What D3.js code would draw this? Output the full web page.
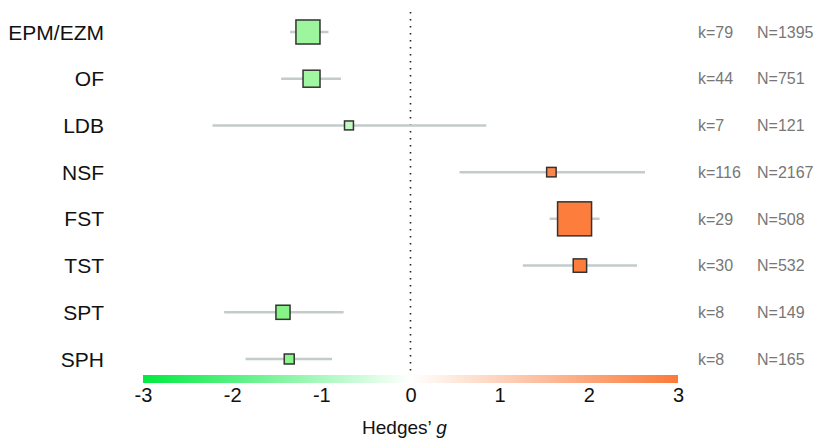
<!DOCTYPE html>
<html>
<head>
<meta charset="utf-8">
<script src="https://cdn.jsdelivr.net/npm/d3@7"></script>
<style>
  body { margin: 0; background: #fff; }
  svg { display: block; font-family: "Liberation Sans", Arial, sans-serif; }
</style>
</head>
<body>
<svg id="chart" width="819" height="440"></svg>
<script>
const categories = ["EPM/EZM", "OF", "LDB", "NSF", "FST", "TST", "SPT", "SPH"];
const effects    = [-1.15, -1.11, -0.69, 1.58, 1.84, 1.90, -1.43, -1.36];
const ciLow      = [-1.35, -1.45, -2.22, 0.55, 1.56, 1.26, -2.09, -1.85];
const ciHigh     = [-0.92, -0.78, 0.85, 2.63, 2.12, 2.54, -0.75, -0.88];
const weights    = [5.8, 2.9, 0.8, 0.9, 11.6, 1.8, 2.0, 1.0];
const kValues    = [79, 44, 7, 116, 29, 30, 8, 8];
const nValues    = [1395, 751, 121, 2167, 508, 532, 149, 165];
const xTicks     = [-3, -2, -1, 0, 1, 2, 3];

const svg = d3.select("#chart");
const x = d3.scaleLinear().domain([-3, 3]).range([143, 678]);
const y = d3.scalePoint().domain(categories).range([32, 359]);
const size = d3.scaleSqrt().domain([0, 11.6]).range([0, 34]);
const fill = d3.scaleLinear().domain([-3, 0, 1.7]).range(["#00e600", "#ffffff", "#fc7d3c"]).clamp(true);

const data = categories.map((c, i) => ({
  cat: c, g: effects[i], lo: ciLow[i], hi: ciHigh[i], w: weights[i], k: kValues[i], n: nValues[i]
}));

// gradient bar
const defs = svg.append("defs");
const grad = defs.append("linearGradient").attr("id", "gbar").attr("x1", "0%").attr("x2", "100%");
grad.append("stop").attr("offset", "0%").attr("stop-color", "#00ea40");
grad.append("stop").attr("offset", "50%").attr("stop-color", "#ffffff");
grad.append("stop").attr("offset", "100%").attr("stop-color", "#fa7a38");
svg.append("rect")
  .attr("x", x(-3)).attr("y", 375)
  .attr("width", x(3) - x(-3)).attr("height", 8)
  .attr("fill", "url(#gbar)");

// zero line
svg.append("line")
  .attr("x1", x(0)).attr("x2", x(0))
  .attr("y1", 12).attr("y2", 372)
  .attr("stroke", "#222").attr("stroke-width", 1.6)
  .attr("stroke-dasharray", "1.6,5.4");

// CI lines
svg.selectAll(".ci").data(data).join("line")
  .attr("class", "ci")
  .attr("x1", d => x(d.lo)).attr("x2", d => x(d.hi))
  .attr("y1", d => y(d.cat)).attr("y2", d => y(d.cat))
  .attr("stroke", "#c3cbcb").attr("stroke-width", 2.5);

// squares
svg.selectAll(".sq").data(data).join("rect")
  .attr("class", "sq")
  .attr("x", d => x(d.g) - size(d.w) / 2)
  .attr("y", d => y(d.cat) - size(d.w) / 2)
  .attr("width", d => size(d.w)).attr("height", d => size(d.w))
  .attr("fill", d => fill(d.g))
  .attr("stroke", "#333").attr("stroke-width", 1.5);

// row labels
svg.selectAll(".lab").data(data).join("text")
  .attr("class", "lab")
  .attr("x", 104).attr("y", d => y(d.cat))
  .attr("dy", "0.36em").attr("text-anchor", "end")
  .attr("font-size", 21).attr("fill", "#111")
  .text(d => d.cat);

// k and N labels
svg.selectAll(".klab").data(data).join("text")
  .attr("class", "klab")
  .attr("x", 698).attr("y", d => y(d.cat))
  .attr("dy", "0.36em").attr("font-size", 16).attr("fill", "#777")
  .text(d => "k=" + d.k);
svg.selectAll(".nlab").data(data).join("text")
  .attr("class", "nlab")
  .attr("x", 757).attr("y", d => y(d.cat))
  .attr("dy", "0.36em").attr("font-size", 16).attr("fill", "#777")
  .text(d => "N=" + d.n);

// x axis
const axis = svg.append("g").attr("transform", "translate(0,385)")
  .call(d3.axisBottom(x).tickValues(xTicks).tickSize(0).tickPadding(3).tickFormat(d => String(d)));
axis.select(".domain").remove();
axis.selectAll("text").attr("font-size", 20).attr("fill", "#111")
  .attr("font-family", "'Liberation Sans', Arial, sans-serif");

// axis title
const title = svg.append("text")
  .attr("x", x(0) - 6).attr("y", 434)
  .attr("text-anchor", "middle").attr("font-size", 19).attr("fill", "#111");
title.append("tspan").text("Hedges\u2019 ");
title.append("tspan").attr("font-style", "italic").text("g");
</script>
</body>
</html>
